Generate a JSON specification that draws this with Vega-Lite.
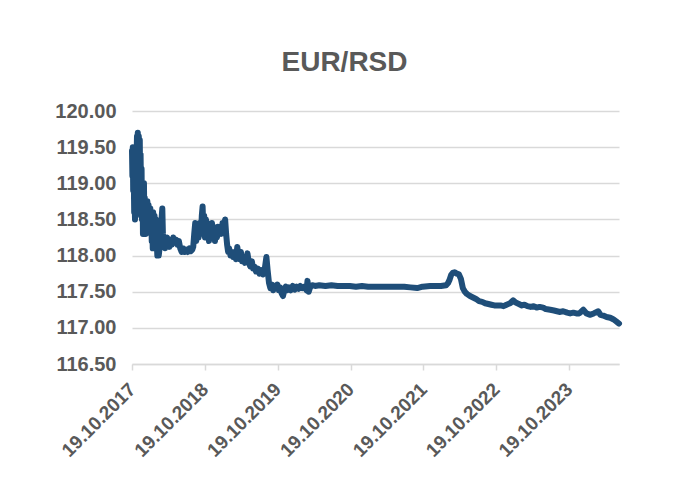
{
  "$schema": "https://vega.github.io/schema/vega-lite/v6.json",
  "width": 487,
  "height": 253,
  "autosize": {"type": "none"},
  "padding": {"left": 132, "top": 111, "right": 64, "bottom": 132},
  "background": "white",
  "title": {"text": "EUR/RSD", "font": "Liberation Sans", "fontSize": 28, "fontWeight": "bold", "color": "#595959", "anchor": "middle", "frame": "group", "baseline": "alphabetic", "offset": 2, "dx": -31},
  "data": {"values": [
    {"d":"2017-10-19","v":119.45},{"d":"2017-10-21","v":119.1},{"d":"2017-10-23","v":119.5},{"d":"2017-10-25","v":118.9},{"d":"2017-10-27","v":119.3},{"d":"2017-10-30","v":118.6},
    {"d":"2017-11-01","v":119.0},{"d":"2017-11-03","v":118.5},{"d":"2017-11-06","v":118.8},{"d":"2017-11-08","v":118.55},{"d":"2017-11-10","v":119.2},{"d":"2017-11-13","v":119.65},
    {"d":"2017-11-15","v":119.4},{"d":"2017-11-17","v":119.7},{"d":"2017-11-20","v":119.3},{"d":"2017-11-22","v":119.65},{"d":"2017-11-24","v":119.1},{"d":"2017-11-27","v":119.6},
    {"d":"2017-11-29","v":118.9},{"d":"2017-12-01","v":119.4},{"d":"2017-12-04","v":118.7},{"d":"2017-12-06","v":119.2},{"d":"2017-12-08","v":118.5},{"d":"2017-12-11","v":118.9},
    {"d":"2017-12-13","v":118.3},{"d":"2017-12-15","v":118.7},{"d":"2017-12-18","v":119.0},{"d":"2017-12-20","v":118.4},{"d":"2017-12-22","v":118.8},{"d":"2017-12-26","v":118.3},
    {"d":"2017-12-28","v":118.7},{"d":"2018-01-02","v":118.4},{"d":"2018-01-04","v":118.75},{"d":"2018-01-08","v":118.35},{"d":"2018-01-10","v":118.7},{"d":"2018-01-12","v":118.4},
    {"d":"2018-01-15","v":118.6},{"d":"2018-01-17","v":118.35},{"d":"2018-01-19","v":118.65},{"d":"2018-01-22","v":118.3},{"d":"2018-01-24","v":118.5},{"d":"2018-01-26","v":118.2},
    {"d":"2018-01-29","v":118.45},{"d":"2018-01-31","v":118.1},{"d":"2018-02-02","v":118.6},{"d":"2018-02-06","v":118.3},{"d":"2018-02-09","v":118.55},{"d":"2018-02-13","v":118.3},
    {"d":"2018-02-16","v":118.5},{"d":"2018-02-20","v":118.2},{"d":"2018-02-23","v":118.0},{"d":"2018-02-27","v":118.15},{"d":"2018-03-02","v":118.0},{"d":"2018-03-06","v":118.1},
    {"d":"2018-03-09","v":118.35},{"d":"2018-03-13","v":118.2},{"d":"2018-03-16","v":118.5},{"d":"2018-03-20","v":118.65},{"d":"2018-03-23","v":118.3},{"d":"2018-03-27","v":118.15},
    {"d":"2018-03-30","v":118.25},{"d":"2018-04-03","v":118.1},{"d":"2018-04-06","v":118.2},{"d":"2018-04-10","v":118.15},{"d":"2018-04-13","v":118.25},{"d":"2018-04-18","v":118.2},
    {"d":"2018-04-24","v":118.12},{"d":"2018-04-30","v":118.22},{"d":"2018-05-07","v":118.15},{"d":"2018-05-14","v":118.25},{"d":"2018-05-21","v":118.18},{"d":"2018-05-28","v":118.22},
    {"d":"2018-06-04","v":118.15},{"d":"2018-06-11","v":118.2},{"d":"2018-06-18","v":118.1},{"d":"2018-06-25","v":118.05},{"d":"2018-07-02","v":118.1},{"d":"2018-07-10","v":118.05},
    {"d":"2018-07-18","v":118.08},{"d":"2018-07-26","v":118.05},{"d":"2018-08-03","v":118.1},{"d":"2018-08-10","v":118.06},{"d":"2018-08-17","v":118.08},{"d":"2018-08-22","v":118.12},
    {"d":"2018-08-27","v":118.3},{"d":"2018-09-01","v":118.45},{"d":"2018-09-06","v":118.2},{"d":"2018-09-12","v":118.4},{"d":"2018-09-18","v":118.25},{"d":"2018-09-24","v":118.45},
    {"d":"2018-09-30","v":118.3},{"d":"2018-10-04","v":118.55},{"d":"2018-10-08","v":118.68},{"d":"2018-10-12","v":118.35},{"d":"2018-10-16","v":118.55},{"d":"2018-10-20","v":118.25},
    {"d":"2018-10-25","v":118.5},{"d":"2018-10-30","v":118.3},{"d":"2018-11-04","v":118.45},{"d":"2018-11-09","v":118.2},{"d":"2018-11-14","v":118.4},{"d":"2018-11-19","v":118.25},
    {"d":"2018-11-24","v":118.45},{"d":"2018-11-29","v":118.3},{"d":"2018-12-04","v":118.4},{"d":"2018-12-09","v":118.2},{"d":"2018-12-14","v":118.35},{"d":"2018-12-19","v":118.25},
    {"d":"2018-12-24","v":118.4},{"d":"2018-12-29","v":118.3},{"d":"2019-01-04","v":118.4},{"d":"2019-01-10","v":118.3},{"d":"2019-01-16","v":118.45},{"d":"2019-01-22","v":118.35},
    {"d":"2019-01-29","v":118.5},{"d":"2019-02-03","v":118.3},{"d":"2019-02-08","v":118.15},{"d":"2019-02-13","v":118.05},{"d":"2019-02-18","v":118.1},{"d":"2019-02-25","v":118.0},
    {"d":"2019-03-04","v":118.05},{"d":"2019-03-10","v":117.98},{"d":"2019-03-17","v":118.05},{"d":"2019-03-24","v":117.95},{"d":"2019-03-31","v":118.12},{"d":"2019-04-06","v":118.0},
    {"d":"2019-04-12","v":117.95},{"d":"2019-04-18","v":118.05},{"d":"2019-04-24","v":117.92},{"d":"2019-05-01","v":117.95},{"d":"2019-05-08","v":117.9},{"d":"2019-05-15","v":117.95},
    {"d":"2019-05-21","v":118.03},{"d":"2019-05-28","v":117.9},{"d":"2019-06-04","v":117.85},{"d":"2019-06-12","v":117.92},{"d":"2019-06-18","v":117.82},{"d":"2019-06-25","v":117.85},
    {"d":"2019-07-03","v":117.78},{"d":"2019-07-12","v":117.82},{"d":"2019-07-20","v":117.75},{"d":"2019-07-29","v":117.8},{"d":"2019-08-07","v":117.74},{"d":"2019-08-15","v":117.8},
    {"d":"2019-08-24","v":117.98},{"d":"2019-08-30","v":117.8},{"d":"2019-09-06","v":117.62},{"d":"2019-09-13","v":117.55},{"d":"2019-09-20","v":117.6},{"d":"2019-09-27","v":117.52},
    {"d":"2019-10-04","v":117.58},{"d":"2019-10-12","v":117.55},{"d":"2019-10-18","v":117.6},{"d":"2019-10-25","v":117.52},{"d":"2019-11-01","v":117.56},{"d":"2019-11-08","v":117.48},
    {"d":"2019-11-15","v":117.44},{"d":"2019-11-22","v":117.52},{"d":"2019-11-29","v":117.57},{"d":"2019-12-06","v":117.52},{"d":"2019-12-15","v":117.56},{"d":"2019-12-24","v":117.52},
    {"d":"2020-01-03","v":117.58},{"d":"2020-01-13","v":117.53},{"d":"2020-01-22","v":117.57},{"d":"2020-02-01","v":117.54},{"d":"2020-02-10","v":117.58},{"d":"2020-02-20","v":117.55},
    {"d":"2020-03-01","v":117.57},{"d":"2020-03-12","v":117.52},{"d":"2020-03-17","v":117.65},{"d":"2020-03-23","v":117.5},{"d":"2020-03-30","v":117.56},{"d":"2020-04-10","v":117.59},
    {"d":"2020-04-24","v":117.58},{"d":"2020-05-15","v":117.59},{"d":"2020-06-15","v":117.58},{"d":"2020-07-15","v":117.59},{"d":"2020-08-15","v":117.58},{"d":"2020-09-15","v":117.58},
    {"d":"2020-10-15","v":117.58},{"d":"2020-11-15","v":117.57},{"d":"2020-12-15","v":117.58},{"d":"2021-01-15","v":117.57},{"d":"2021-02-15","v":117.57},{"d":"2021-03-15","v":117.57},
    {"d":"2021-04-15","v":117.57},{"d":"2021-05-15","v":117.57},{"d":"2021-06-15","v":117.57},{"d":"2021-07-15","v":117.57},{"d":"2021-08-15","v":117.56},{"d":"2021-09-18","v":117.55},
    {"d":"2021-10-15","v":117.57},{"d":"2021-11-22","v":117.58},{"d":"2021-12-15","v":117.58},{"d":"2022-01-15","v":117.58},{"d":"2022-02-10","v":117.59},{"d":"2022-02-20","v":117.62},
    {"d":"2022-02-28","v":117.67},{"d":"2022-03-07","v":117.73},{"d":"2022-03-15","v":117.76},{"d":"2022-03-25","v":117.77},{"d":"2022-04-05","v":117.75},{"d":"2022-04-15","v":117.74},
    {"d":"2022-04-25","v":117.68},{"d":"2022-05-05","v":117.55},{"d":"2022-05-15","v":117.5},{"d":"2022-05-25","v":117.47},{"d":"2022-06-10","v":117.44},{"d":"2022-06-25","v":117.42},
    {"d":"2022-07-10","v":117.4},{"d":"2022-07-25","v":117.37},{"d":"2022-08-10","v":117.36},{"d":"2022-08-25","v":117.34},{"d":"2022-09-10","v":117.33},{"d":"2022-09-25","v":117.32},
    {"d":"2022-10-10","v":117.31},{"d":"2022-10-25","v":117.31},{"d":"2022-11-10","v":117.31},{"d":"2022-11-25","v":117.3},{"d":"2022-12-10","v":117.32},{"d":"2022-12-28","v":117.34},
    {"d":"2023-01-12","v":117.38},{"d":"2023-01-25","v":117.35},{"d":"2023-02-10","v":117.33},{"d":"2023-02-25","v":117.31},{"d":"2023-03-10","v":117.32},{"d":"2023-03-25","v":117.3},
    {"d":"2023-04-10","v":117.29},{"d":"2023-04-25","v":117.3},{"d":"2023-05-10","v":117.28},{"d":"2023-05-25","v":117.29},{"d":"2023-06-12","v":117.28},{"d":"2023-06-25","v":117.26},
    {"d":"2023-07-17","v":117.25},{"d":"2023-08-05","v":117.24},{"d":"2023-08-20","v":117.23},{"d":"2023-09-05","v":117.22},{"d":"2023-09-20","v":117.23},{"d":"2023-10-10","v":117.21},
    {"d":"2023-10-25","v":117.2},{"d":"2023-11-10","v":117.21},{"d":"2023-11-25","v":117.2},{"d":"2023-12-10","v":117.2},{"d":"2023-12-30","v":117.25},{"d":"2024-01-15","v":117.2},
    {"d":"2024-02-03","v":117.18},{"d":"2024-02-20","v":117.2},{"d":"2024-03-14","v":117.23},{"d":"2024-03-25","v":117.18},{"d":"2024-04-08","v":117.17},{"d":"2024-04-25","v":117.15},
    {"d":"2024-05-13","v":117.14},{"d":"2024-05-28","v":117.12},{"d":"2024-06-12","v":117.09},{"d":"2024-06-26","v":117.06}
  ]},
  "mark": {"type": "line", "color": "#1F4E79", "strokeWidth": 6, "strokeCap": "round", "strokeJoin": "round", "clip": false},
  "encoding": {
    "x": {
      "field": "d", "type": "temporal",
      "scale": {"type": "utc", "domain": [{"year": 2017, "month": 10, "date": 19, "utc": true}, {"year": 2024, "month": 6, "date": 26, "utc": true}]},
      "axis": {
        "title": null,
        "values": [
          {"year": 2017, "month": 10, "date": 19, "utc": true},
          {"year": 2018, "month": 10, "date": 19, "utc": true},
          {"year": 2019, "month": 10, "date": 19, "utc": true},
          {"year": 2020, "month": 10, "date": 19, "utc": true},
          {"year": 2021, "month": 10, "date": 19, "utc": true},
          {"year": 2022, "month": 10, "date": 19, "utc": true},
          {"year": 2023, "month": 10, "date": 19, "utc": true}
        ],
        "format": "%d.%m.%Y",
        "labelAngle": -45, "labelAlign": "right", "labelBaseline": "middle",
        "labelFont": "Liberation Sans", "labelFontSize": 19, "labelFontWeight": "bold", "labelColor": "#595959",
        "labelOverlap": false, "labelFlush": false, "labelBound": false, "labelPadding": 16,
        "grid": false, "domainColor": "#D9D9D9", "domainWidth": 1.5, "tickColor": "#D9D9D9", "tickWidth": 1.5, "tickSize": 6
      }
    },
    "y": {
      "field": "v", "type": "quantitative",
      "scale": {"domain": [116.5, 120], "zero": false, "nice": false},
      "axis": {
        "title": null,
        "values": [116.5, 117, 117.5, 118, 118.5, 119, 119.5, 120],
        "format": ".2f",
        "domain": false, "ticks": false,
        "grid": true, "gridColor": "#D9D9D9", "gridWidth": 1.5,
        "labelFont": "Liberation Sans", "labelFontSize": 20, "labelFontWeight": "bold", "labelColor": "#595959",
        "labelPadding": 16
      }
    }
  },
  "config": {"view": {"stroke": null}}
}
